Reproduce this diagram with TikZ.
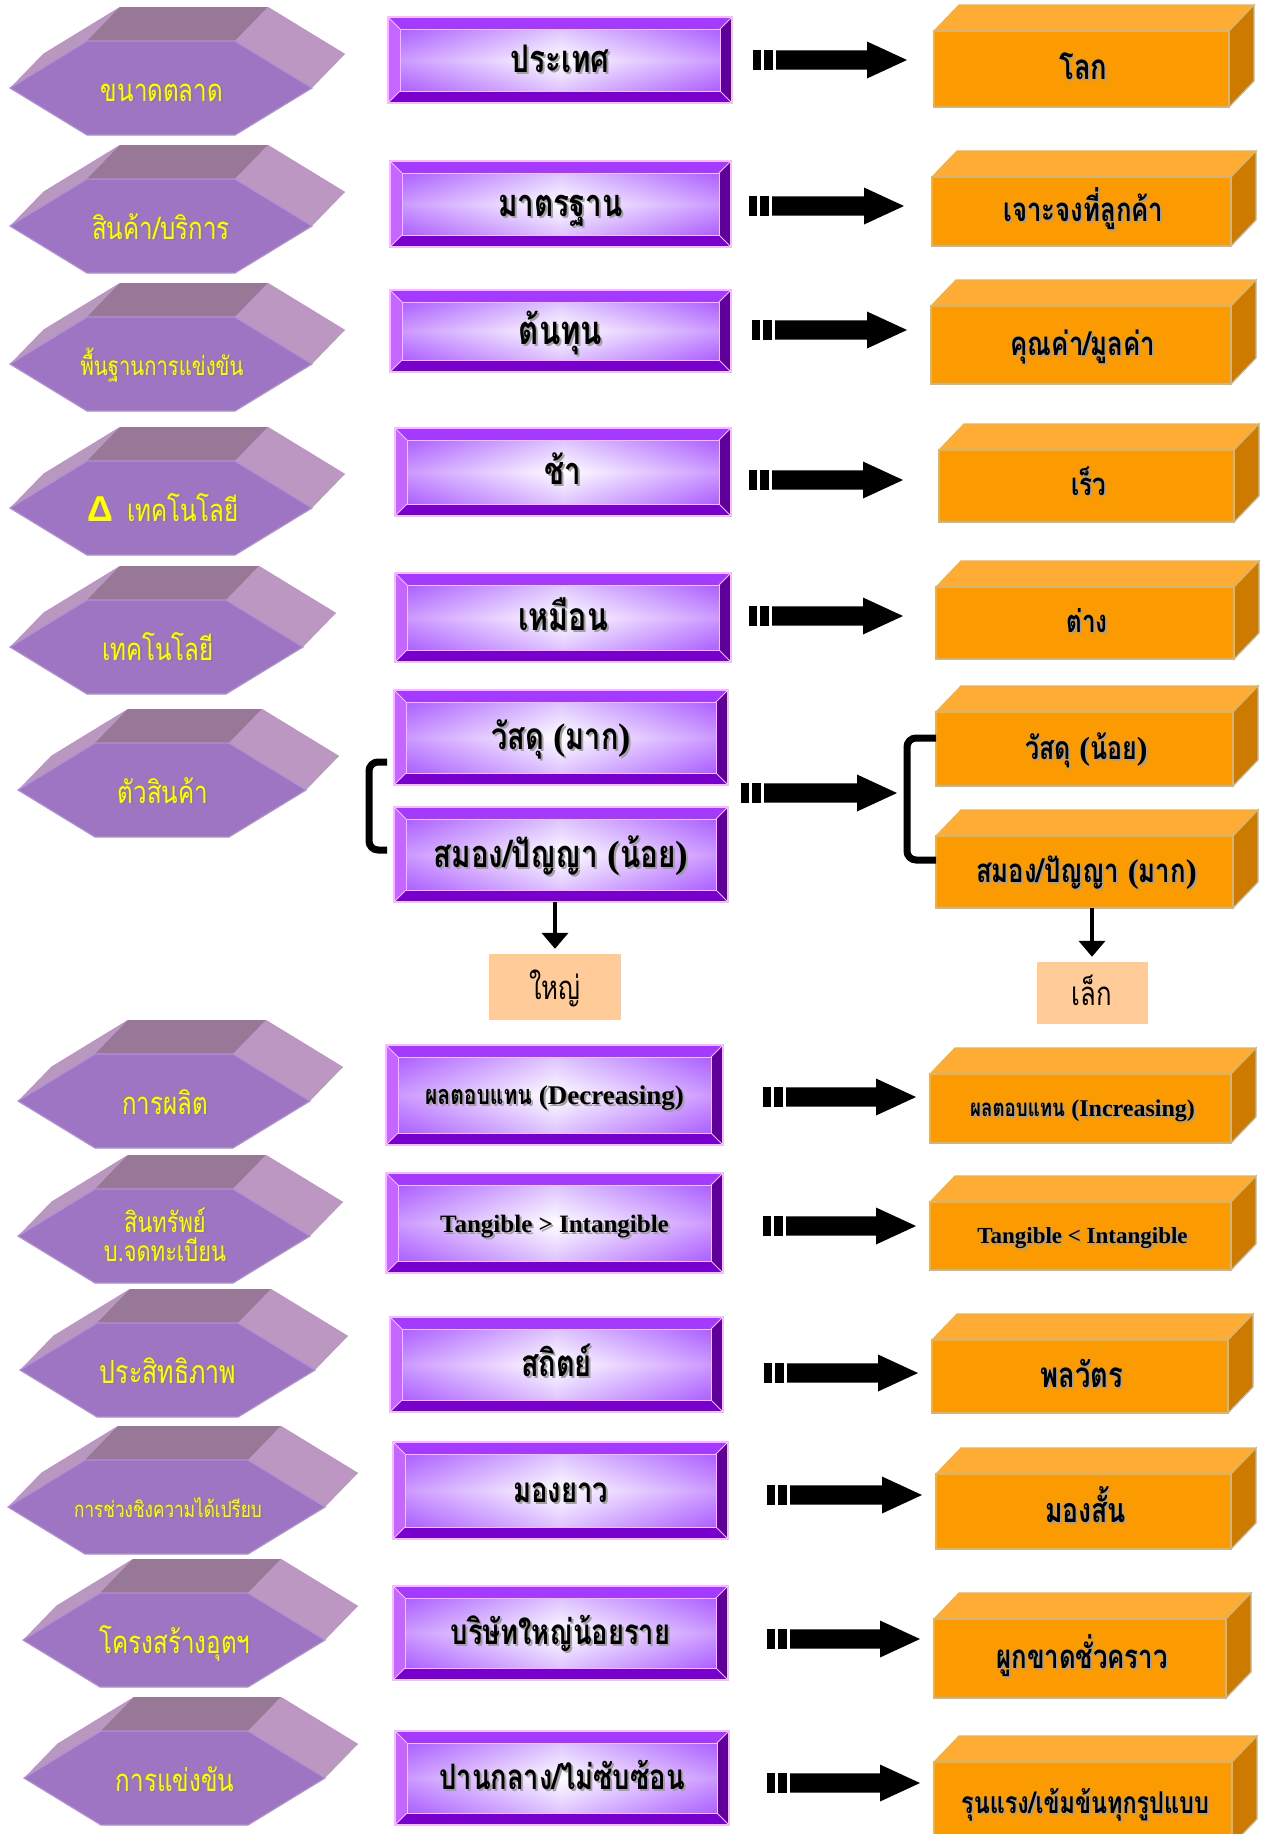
\documentclass[tikz,border=0pt]{standalone}
\usepackage{fontspec}
\usetikzlibrary{arrows.meta,calc}
\newfontfamily\thf[Script=Thai,FakeStretch=0.78]{Loma}
\newfontfamily\ltf{Liberation Serif}
\newfontfamily\symf{Liberation Sans}
\newcommand\lt[1]{{\ltf #1}}

\definecolor{hexfront}{HTML}{9D75C3}
\definecolor{hexedge}{HTML}{B390D2}
\definecolor{hextop}{HTML}{977896}
\definecolor{hexside}{HTML}{BC97C2}
\definecolor{hexleft}{HTML}{B898BE}
\definecolor{hexyellow}{HTML}{FFFF00}
\definecolor{hexshadow}{HTML}{8C7C8E}
\definecolor{bvtop}{HTML}{A53AFF}
\definecolor{bvleft}{HTML}{C466FF}
\definecolor{bvright}{HTML}{5E0099}
\definecolor{bvbottom}{HTML}{7800CC}
\definecolor{bvrim}{HTML}{F5BDF5}
\definecolor{bvface}{HTML}{9933FF}
\definecolor{bvsoft}{HTML}{BF8CFF}
\definecolor{orfront}{HTML}{FC9A02}
\definecolor{ortop}{HTML}{FEAC34}
\definecolor{orside}{HTML}{CC7A00}
\definecolor{oredge}{HTML}{D6B574}
\definecolor{peach}{HTML}{FFCC99}
\definecolor{txtshadow}{HTML}{A0A0A0}

\tikzset{
  hexlab/.style={anchor=base, inner sep=0, text=hexyellow,
    font=\thf\fontsize{#1}{#1}\selectfont},
  boxlab/.style={anchor=base, inner sep=0, text=black,
    font=\thf\bfseries\fontsize{#1}{#1}\selectfont},
  plainlab/.style={anchor=base, inner sep=0, text=black,
    font=\thf\fontsize{#1}{#1}\selectfont},
  bracket/.style={line width=7, rounded corners=9},
  downarrow/.style={line width=4.5, -{Triangle[width=26,length=16]}, shorten >=5},
}

% hexagonal prism: name, left point x, right point x, centre y
\newcommand\hexprism[4]{%
  \fill[hexside] ({#2+33},{#4-34}) -- ({#2+110},{#4-81}) -- ({#3-44},{#4-81})
    -- ({#3+33},{#4-34}) -- ({#3-44},{#4+13}) -- ({#2+110},{#4+13}) -- cycle;
  \fill[hexleft] (#2,#4) -- ({#2+77},{#4-47}) -- ({#2+110},{#4-81}) -- ({#2+33},{#4-34}) -- cycle;
  \fill[hextop] ({#2+77},{#4-47}) -- ({#3-77},{#4-47}) -- ({#3-44},{#4-81}) -- ({#2+110},{#4-81}) -- cycle;
  \fill[hexside] ({#3-77},{#4-47}) -- (#3,#4) -- ({#3+33},{#4-34}) -- ({#3-44},{#4-81}) -- cycle;
  \filldraw[fill=hexfront, draw=hexedge, line width=1.2] (#2,#4) -- ({#2+77},{#4-47})
    -- ({#3-77},{#4-47}) -- (#3,#4) -- ({#3-77},{#4+47}) -- ({#2+77},{#4+47}) -- cycle;
  \coordinate (#1) at ({(#2+#3)/2},#4);
}
% yellow label with a soft shadow: name, x, baseline y, size, text
\newcommand\hexlabel[5]{%
  \node[hexlab=#4, text=hexshadow] at (#2+1.8,#3+1.8) {#5};
  \node[hexlab=#4] (#1) at (#2,#3) {#5};
}
% bevelled purple button: name, x1, y1, x2, y2, size, text
\newcommand\bevelbox[7]{%
  \pgfmathsetmacro\bxcx{(#2+#4)/2}%
  \pgfmathsetmacro\bxcy{(#3+#5)/2+0.25*#6+3}%
  \fill[bvtop] (#2,#3) -- (#4,#3) -- ({#4-12},{#3+12}) -- ({#2+12},{#3+12}) -- cycle;
  \fill[bvbottom] (#2,#5) -- (#4,#5) -- ({#4-12},{#5-12}) -- ({#2+12},{#5-12}) -- cycle;
  \fill[bvleft] (#2,#3) -- ({#2+12},{#3+12}) -- ({#2+12},{#5-12}) -- (#2,#5) -- cycle;
  \fill[bvright] (#4,#3) -- ({#4-12},{#3+12}) -- ({#4-12},{#5-12}) -- (#4,#5) -- cycle;
  \shade[left color=bvface, right color=bvface, middle color=white]
    ({#2+12},{#3+12}) rectangle ({#4-12},{#5-12});
  \shade[top color=bvsoft, bottom color=bvsoft, middle color=white, opacity=0.5]
    ({#2+12},{#3+12}) rectangle ({#4-12},{#5-12});
  \draw[bvrim, line width=1] ({#2+12},{#3+12}) rectangle ({#4-12},{#5-12});
  \draw[bvrim, line width=1] (#2,#3) -- ({#2+12},{#3+12}) (#4,#3) -- ({#4-12},{#3+12})
    (#2,#5) -- ({#2+12},{#5-12}) (#4,#5) -- ({#4-12},{#5-12});
  \draw[bvrim, line width=2.5] (#2,#3) rectangle (#4,#5);
  \coordinate (#1-south) at (\bxcx,#5);
  \node[boxlab=#6, text=txtshadow] at (\bxcx+2,\bxcy+2) {#7};
  \node[boxlab=#6] (#1) at (\bxcx,\bxcy) {#7};
}
% orange block seen from above right: name, x1, front top y, x2, y2, size, text
\newcommand\orangebox[7]{%
  \pgfmathsetmacro\bxcx{(#2+#4)/2+2}%
  \pgfmathsetmacro\bxcy{(#3+#5)/2+0.25*#6+2}%
  \filldraw[fill=ortop, draw=oredge, line width=1.2] (#2,#3) -- ({#2+25},{#3-26})
    -- ({#4+25},{#3-26}) -- (#4,#3) -- cycle;
  \filldraw[fill=orside, draw=oredge, line width=1.2] (#4,#3) -- ({#4+25},{#3-26})
    -- ({#4+25},{#5-26}) -- (#4,#5) -- cycle;
  \filldraw[fill=orfront, draw=oredge, line width=1.2] (#2,#3) rectangle (#4,#5);
  \coordinate (#1-south) at ({(#2+#4)/2},#5);
  \node[boxlab=#6, text=txtshadow] at (\bxcx+2,\bxcy+2) {#7};
  \node[boxlab=#6] (#1) at (\bxcx,\bxcy) {#7};
}
% block arrow with two tail bars: name, start x, tip x, y
\newcommand\blockarrow[4]{%
  \coordinate (#1-s) at (#2,#4);
  \coordinate (#1-e) at (#3,#4);
  \fill ($(#1-s)+(0,-9.6)$) rectangle ($(#1-s)+(8,9.6)$);
  \fill ($(#1-s)+(11,-9.6)$) rectangle ($(#1-s)+(20,9.6)$);
  \fill ($(#1-s)+(23,-9.6)$) -- ($(#1-e)+(-40,-9.6)$) -- ($(#1-e)+(-40,-18.5)$)
    -- (#1-e) -- ($(#1-e)+(-40,18.5)$) -- ($(#1-e)+(-40,9.6)$) -- ($(#1-s)+(23,9.6)$) -- cycle;
}

\begin{document}
\begin{tikzpicture}[x=1pt,y=-1pt]
\useasboundingbox (0,0) rectangle (1268,1834);
\clip (0,0) rectangle (1268,1834);
\fill[white] (0,0) rectangle (1268,1834);

% left column: hexagonal prisms
\hexprism{h1}{10}{312}{88}
\hexprism{h2}{10}{312}{226}
\hexprism{h3}{10}{312}{364}
\hexprism{h4}{10}{312}{508}
\hexprism{h5}{10}{303}{647}
\hexprism{h6}{18}{306}{790}
\hexprism{h7}{18}{310}{1101}
\hexprism{h8}{18}{310}{1236}
\hexprism{h9}{20}{315}{1370}
\hexprism{h10}{8}{325}{1507}
\hexprism{h11}{23}{325}{1640}
\hexprism{h12}{24}{325}{1778}

\hexlabel{t1}{162}{101}{31}{ขนาดตลาด}
\hexlabel{t2}{161}{239}{31}{สินค้า/บริการ}
\hexlabel{t3}{162}{375}{26}{พื้นฐานการแข่งขัน}
\hexlabel{t4}{163}{521}{31}{{\symf\bfseries\fontsize{36}{36}\selectfont Δ}\hspace{14pt}เทคโนโลยี}
\hexlabel{t5}{158}{660}{31}{เทคโนโลยี}
\hexlabel{t6}{163}{803}{31}{ตัวสินค้า}
\hexlabel{t7}{165}{1114}{31}{การผลิต}
\hexlabel{t8a}{165}{1232}{28}{สินทรัพย์}
\hexlabel{t8b}{165}{1261}{28}{บ.จดทะเบียน}
\hexlabel{t9}{168}{1383}{32}{ประสิทธิภาพ}
\hexlabel{t10}{168}{1517}{22}{การช่วงชิงความได้เปรียบ}
\hexlabel{t11}{175}{1653}{31}{โครงสร้างอุตฯ}
\hexlabel{t12}{175}{1791}{31}{การแข่งขัน}

% middle column: bevelled buttons
\bevelbox{p1}{388}{17}{732}{103}{38}{ประเทศ}
\bevelbox{p2}{390}{161}{731}{247}{38}{มาตรฐาน}
\bevelbox{p3}{390}{290}{731}{372}{40}{ต้นทุน}
\bevelbox{p4}{395}{428}{731}{516}{38}{ช้า}
\bevelbox{p5}{395}{573}{731}{662}{39}{เหมือน}
\bevelbox{p6}{394}{690}{728}{785}{37}{วัสดุ \lt{(}มาก\lt{)}}
\bevelbox{p7}{394}{807}{728}{902}{38}{สมอง/ปัญญา \lt{(}น้อย\lt{)}}
\bevelbox{p8}{386}{1045}{723}{1145}{27}{ผลตอบแทน \lt{(Decreasing)}}
\bevelbox{p9}{386}{1173}{723}{1273}{25}{\lt{Tangible > Intangible}}
\bevelbox{p10}{390}{1317}{723}{1412}{37}{สถิตย์}
\bevelbox{p11}{393}{1442}{728}{1539}{35}{มองยาว}
\bevelbox{p12}{393}{1586}{728}{1680}{35}{บริษัทใหญ่น้อยราย}
\bevelbox{p13}{395}{1731}{729}{1825}{35}{ปานกลาง/ไม่ซับซ้อน}

% right column: orange blocks
\orangebox{o1}{934}{31}{1229}{107}{35}{โลก}
\orangebox{o2}{932}{177}{1231}{246}{33}{เจาะจงที่ลูกค้า}
\orangebox{o3}{931}{306}{1231}{384}{33}{คุณค่า/มูลค่า}
\orangebox{o4}{939}{450}{1234}{522}{31}{เร็ว}
\orangebox{o5}{936}{587}{1234}{659}{31}{ต่าง}
\orangebox{o6}{936}{712}{1233}{786}{32}{วัสดุ \lt{(}น้อย\lt{)}}
\orangebox{o7}{936}{836}{1233}{908}{33}{สมอง/ปัญญา \lt{(}มาก\lt{)}}
\orangebox{o8}{930}{1074}{1231}{1143}{24}{ผลตอบแทน \lt{(Increasing)}}
\orangebox{o9}{930}{1202}{1231}{1270}{23}{\lt{Tangible < Intangible}}
\orangebox{o10}{932}{1340}{1228}{1413}{35}{พลวัตร}
\orangebox{o11}{936}{1474}{1231}{1549}{34}{มองสั้น}
\orangebox{o12}{934}{1619}{1226}{1698}{33}{ผูกขาดชั่วคราว}
\orangebox{o13}{934}{1762}{1232}{1845}{30}{รุนแรง/เข้มข้นทุกรูปแบบ}

% block arrows between the columns
\blockarrow{a1}{753}{907}{60}
\blockarrow{a2}{749}{904}{206}
\blockarrow{a3}{752}{907}{330}
\blockarrow{a4}{749}{903}{480}
\blockarrow{a5}{749}{903}{616}
\blockarrow{a6}{741}{897}{793}
\blockarrow{a7}{763}{916}{1097}
\blockarrow{a8}{763}{916}{1226}
\blockarrow{a9}{764}{918}{1373}
\blockarrow{a10}{767}{922}{1495}
\blockarrow{a11}{767}{920}{1639}
\blockarrow{a12}{767}{920}{1783}

% brackets grouping the two rows of the product line
\coordinate (lbt) at (387,762);
\coordinate (lbb) at (387,850);
\draw[bracket] (lbt) -- ++(-18,0) -- ++(0,88) -- (lbb);
\coordinate (rbt) at (936,738);
\coordinate (rbb) at (936,860);
\draw[bracket] (rbt) -- ++(-29,0) -- ++(0,122) -- (rbb);

% size results
\node[fill=peach, minimum width=132, minimum height=66, inner sep=0] (yai) at (555,987) {};
\node[plainlab=33] (yait) at (555,999) {ใหญ่};
\node[fill=peach, minimum width=111, minimum height=62, inner sep=0] (lek) at (1092,993) {};
\node[plainlab=33] (lekt) at (1092,1005) {เล็ก};
\draw[downarrow] (yai.north |- p7-south) -- (yai.north);
\draw[downarrow] (lek.north |- o7-south) -- (lek.north);
\end{tikzpicture}
\end{document}
